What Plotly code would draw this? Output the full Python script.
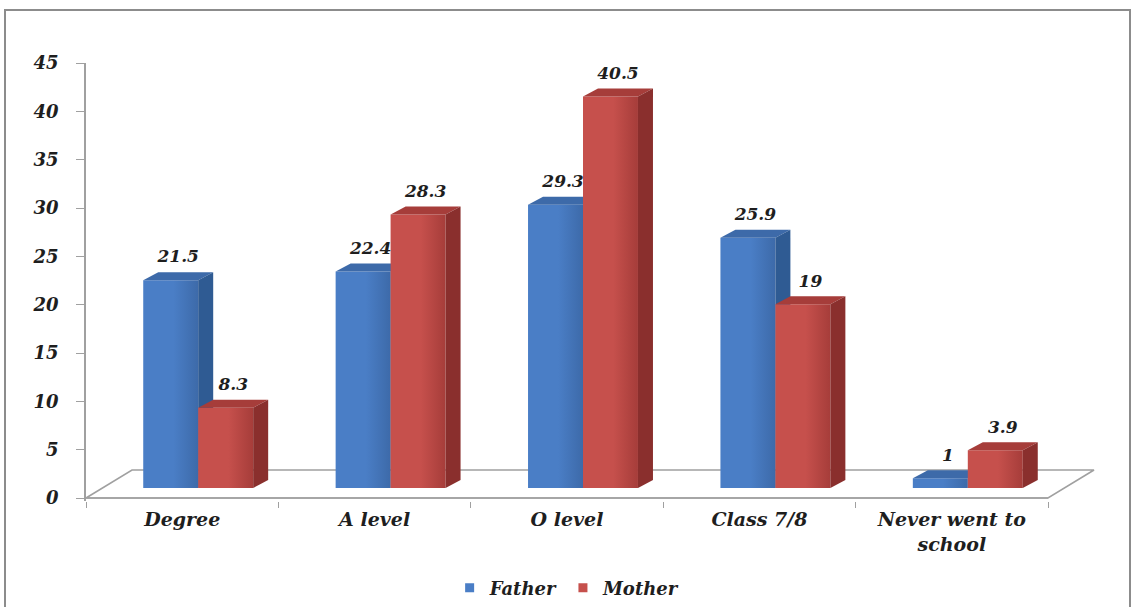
import plotly.graph_objects as go

# ---- data -------------------------------------------------------------
categories = ["Degree", "A level", "O level", "Class 7/8", "Never went to<br>school"]
father = [21.5, 22.4, 29.3, 25.9, 1]
mother = [8.3, 28.3, 40.5, 19, 3.9]
y_ticks = [0, 5, 10, 15, 20, 25, 30, 35, 40, 45]
series_names = ["Father", "Mother"]

# ---- geometry of the pseudo-3D projection ------------------------------
W, H = 1133, 607
PLOT_L, PLOT_R, PLOT_T, PLOT_B = 86, 1100, 63, 501
PX_PER_CAT = 192.4                       # pixels per category on the front edge
Y_MAX, Y_MIN = 45, -0.31
PX_PER_UNIT = (PLOT_B - PLOT_T) / (Y_MAX - Y_MIN)

def dx(px):
    return px / PX_PER_CAT

def dy(px):
    return px / PX_PER_UNIT

FLOOR_DX, FLOOR_DY = dx(46), dy(28)     # depth of the floor
FRONT_DX, FRONT_DY = dx(16), dy(10)     # front face of bars sits this deep
SIDE_DX, SIDE_DY = dx(15), dy(8)        # thickness of the bars in depth
LABEL_GAP = dy(14)                       # value label centre above the bar top

BAR_W = 1 / 3.5                          # Excel gap width 150 %
GAP = (1 - 2 * BAR_W) / 2

FONT = "DejaVu Serif"
TEXT_COL = "#1e1e1e"
AXIS_COL = "#a0a0a0"

def txt(size):
    return dict(family=FONT, size=size, color=TEXT_COL, weight="bold", style="italic")

faces = {
    "Father": {"front": "#4a7ec6", "top": "#3d6aa9", "side": "#2f5b93"},
    "Mother": {"front": "#c6504c", "top": "#a63d3a", "side": "#8a2f2d"},
}

fig = go.Figure()

# floor outline
fx = [0, 5, 5 + FLOOR_DX, FLOOR_DX, 0]
fy = [0, 0, FLOOR_DY, FLOOR_DY, 0]
fig.add_trace(go.Scatter(x=fx, y=fy, mode="lines", line=dict(color=AXIS_COL, width=1.6),
                         hoverinfo="skip", showlegend=False))

def add_bar(x0, value, cols):
    bx0 = x0 + FRONT_DX
    bx1 = bx0 + BAR_W
    by0 = FRONT_DY
    by1 = by0 + value
    # front face
    fig.add_trace(go.Scatter(
        x=[bx0, bx1, bx1, bx0, bx0], y=[by0, by0, by1, by1, by0],
        fill="toself", fillcolor=cols["front"], mode="lines", line=dict(width=0),
        fillgradient=dict(type="horizontal",
                          colorscale=[[0, cols["front"]], [0.55, cols["front"]], [1, cols["top"]]]),
        hoverinfo="skip", showlegend=False))
    # top face
    fig.add_trace(go.Scatter(
        x=[bx0, bx1, bx1 + SIDE_DX, bx0 + SIDE_DX, bx0],
        y=[by1, by1, by1 + SIDE_DY, by1 + SIDE_DY, by1],
        fill="toself", fillcolor=cols["top"], mode="lines", line=dict(width=0),
        hoverinfo="skip", showlegend=False))
    # right side face
    fig.add_trace(go.Scatter(
        x=[bx1, bx1 + SIDE_DX, bx1 + SIDE_DX, bx1, bx1],
        y=[by0, by0 + SIDE_DY, by1 + SIDE_DY, by1, by0],
        fill="toself", fillcolor=cols["side"], mode="lines", line=dict(width=0),
        hoverinfo="skip", showlegend=False))

label_x, label_y, label_t = [], [], []
for i in range(len(categories)):
    for j, values in enumerate([father, mother]):
        x0 = i + GAP + j * BAR_W
        add_bar(x0, values[i], faces[series_names[j]])
        label_x.append(x0 + FRONT_DX + BAR_W / 2 + SIDE_DX / 2)
        label_y.append(FRONT_DY + values[i] + SIDE_DY + LABEL_GAP)
        label_t.append(f"{values[i]:g}")

# front edge of the floor
fig.add_trace(go.Scatter(x=[0, 5], y=[0, 0], mode="lines",
                         line=dict(color=AXIS_COL, width=1.6),
                         hoverinfo="skip", showlegend=False))

# value labels
fig.add_trace(go.Scatter(
    x=label_x, y=label_y, text=label_t, mode="text", textposition="middle center",
    textfont=txt(17), cliponaxis=False, hoverinfo="skip", showlegend=False))

# legend entries
for name in series_names:
    fig.add_trace(go.Scatter(
        x=[None], y=[None], mode="markers", name=name,
        marker=dict(symbol="square", size=9, color=faces[name]["front"])))

paper_x = lambda px: (px - PLOT_L) / (PLOT_R - PLOT_L)
paper_y = lambda py: (PLOT_B - py) / (PLOT_B - PLOT_T)

fig.update_layout(
    width=W, height=H, autosize=False,
    margin=dict(l=PLOT_L, r=W - PLOT_R, t=PLOT_T, b=H - PLOT_B),
    paper_bgcolor="white", plot_bgcolor="white",
    xaxis=dict(range=[0, (PLOT_R - PLOT_L) / PX_PER_CAT], showgrid=False, zeroline=False,
               showline=False, tickmode="array", tickvals=[i + 0.5 for i in range(5)],
               ticktext=categories, ticks="", ticklabelstandoff=5,
               tickfont=txt(19),
               minor=dict(tickmode="array", tickvals=[0, 1, 2, 3, 4, 5], ticks="outside",
                          ticklen=6, tickwidth=1.4, tickcolor=AXIS_COL),
               fixedrange=True),
    yaxis=dict(range=[Y_MIN, Y_MAX], showgrid=False, zeroline=False, showline=True,
               linecolor=AXIS_COL, linewidth=1.6, tickmode="array", tickvals=y_ticks,
               ticks="outside", ticklen=8, tickwidth=1.4, tickcolor=AXIS_COL,
               ticklabelstandoff=14, tickfont=txt(18), fixedrange=True),
    legend=dict(orientation="h", xref="container", yref="container",
                x=0.501, xanchor="center", y=1 - 588 / H, yanchor="middle",
                font=txt(18), itemwidth=30, bgcolor="rgba(0,0,0,0)"),
    shapes=[dict(type="rect", xref="paper", yref="paper",
                 x0=paper_x(5), x1=paper_x(1130), y0=paper_y(620), y1=paper_y(10),
                 line=dict(color="#8c8c8c", width=2), fillcolor="rgba(0,0,0,0)", layer="below")],
)

fig.write_html("out.html")
